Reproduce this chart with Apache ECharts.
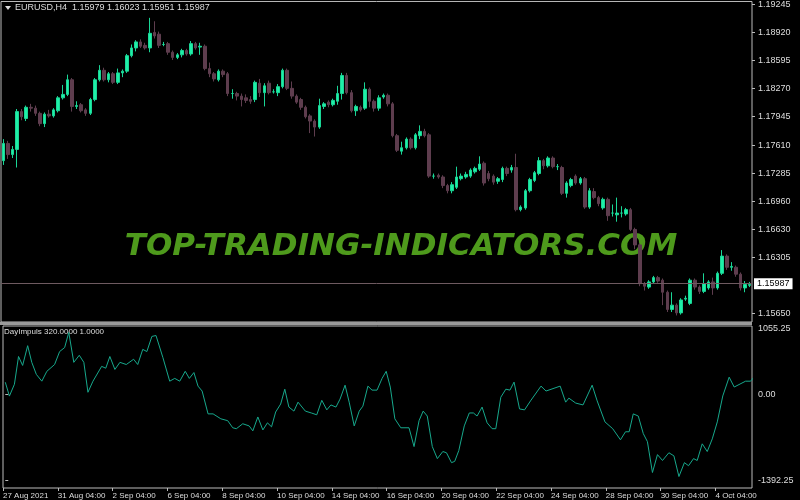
<!DOCTYPE html>
<html>
<head>
<meta charset="utf-8">
<script src="https://cdn.jsdelivr.net/npm/echarts@6/dist/echarts.min.js"></script>
<style>
  html, body { margin: 0; padding: 0; background: #000; }
  #chart { width: 800px; height: 500px; }
</style>
</head>
<body>
<div id="chart"></div>
<script>
// EURUSD H4 candles: [open, close, low, high]
var candles = [
  [1.1743,1.1763,1.1738,1.1768],[1.1763,1.1750,1.1745,1.1766],[1.1750,1.1756,1.1746,1.1760],[1.1756,1.1800,1.1735,1.1803],
  [1.1800,1.1794,1.1790,1.1803],[1.1792,1.1805,1.1789,1.1807],[1.1805,1.1804,1.1800,1.1809],[1.1804,1.1798,1.1795,1.1807],
  [1.1798,1.1786,1.1783,1.1800],[1.1786,1.1797,1.1782,1.1799],[1.1797,1.1795,1.1793,1.1802],[1.1795,1.1802,1.1793,1.1804],
  [1.1801,1.1816,1.1799,1.1818],[1.1816,1.1820,1.1814,1.1831],[1.1820,1.1837,1.1818,1.1843],[1.1837,1.1806,1.1800,1.1839],
  [1.1806,1.1807,1.1803,1.1812],[1.1808,1.1801,1.1799,1.1810],[1.1802,1.1798,1.1795,1.1804],[1.1798,1.1814,1.1796,1.1816],
  [1.1814,1.1837,1.1812,1.1839],[1.1837,1.1848,1.1835,1.1854],[1.1848,1.1837,1.1835,1.1851],[1.1837,1.1844,1.1834,1.1846],
  [1.1844,1.1834,1.1832,1.1846],[1.1834,1.1845,1.1832,1.1850],[1.1845,1.1847,1.1840,1.1849],[1.1847,1.1865,1.1845,1.1867],
  [1.1865,1.1874,1.1863,1.1878],[1.1874,1.1881,1.1870,1.1883],[1.1881,1.1876,1.1874,1.1884],[1.1877,1.1874,1.1872,1.1880],
  [1.1874,1.1891,1.1869,1.1909],[1.1892,1.1888,1.1885,1.1905],[1.1890,1.1877,1.1874,1.1893],[1.1878,1.1878,1.1876,1.1881],
  [1.1879,1.1869,1.1866,1.1881],[1.1869,1.1863,1.1860,1.1871],[1.1863,1.1866,1.1861,1.1868],[1.1866,1.1871,1.1863,1.1873],
  [1.1871,1.1867,1.1865,1.1873],[1.1867,1.1879,1.1865,1.1882],[1.1879,1.1874,1.1872,1.1881],[1.1875,1.1876,1.1866,1.1880],
  [1.1876,1.1850,1.1848,1.1878],[1.1850,1.1844,1.1840,1.1857],[1.1844,1.1838,1.1835,1.1846],[1.1837,1.1847,1.1835,1.1849],
  [1.1847,1.1843,1.1840,1.1849],[1.1844,1.1821,1.1818,1.1846],[1.1821,1.1821,1.1815,1.1826],[1.1821,1.1818,1.1813,1.1823],
  [1.1818,1.1814,1.1806,1.1821],[1.1816,1.1813,1.1810,1.1820],[1.1814,1.1812,1.1809,1.1818],[1.1814,1.1834,1.1811,1.1836],
  [1.1833,1.1822,1.1817,1.1838],[1.1822,1.1830,1.1806,1.1833],[1.1833,1.1822,1.1820,1.1836],[1.1823,1.1823,1.1821,1.1826],
  [1.1822,1.1829,1.1818,1.1832],[1.1829,1.1848,1.1827,1.1850],[1.1848,1.1827,1.1825,1.1850],[1.1827,1.1818,1.1815,1.1835],
  [1.1818,1.1811,1.1809,1.1820],[1.1814,1.1805,1.1802,1.1816],[1.1805,1.1794,1.1792,1.1807],[1.1795,1.1789,1.1775,1.1797],
  [1.1789,1.1782,1.1771,1.1791],[1.1782,1.1807,1.1780,1.1815],[1.1806,1.1809,1.1803,1.1811],[1.1811,1.1808,1.1805,1.1813],
  [1.1808,1.1813,1.1806,1.1815],[1.1812,1.1821,1.1808,1.1830],[1.1821,1.1842,1.1814,1.1845],[1.1842,1.1822,1.1820,1.1845],
  [1.1822,1.1801,1.1799,1.1825],[1.1801,1.1806,1.1795,1.1808],[1.1805,1.1802,1.1800,1.1807],[1.1804,1.1826,1.1802,1.1834],
  [1.1826,1.1812,1.1805,1.1828],[1.1812,1.1804,1.1800,1.1814],[1.1804,1.1816,1.1801,1.1819],[1.1817,1.1819,1.1815,1.1821],
  [1.1819,1.1809,1.1806,1.1821],[1.1809,1.1772,1.1770,1.1811],[1.1772,1.1755,1.1753,1.1774],[1.1754,1.1758,1.1750,1.1765],
  [1.1758,1.1768,1.1756,1.1770],[1.1768,1.1758,1.1756,1.1770],[1.1758,1.1773,1.1756,1.1775],[1.1772,1.1777,1.1768,1.1784],
  [1.1777,1.1772,1.1770,1.1780],[1.1773,1.1725,1.1723,1.1775],[1.1725,1.1725,1.1722,1.1728],[1.1726,1.1724,1.1722,1.1728],
  [1.1724,1.1714,1.1711,1.1726],[1.1714,1.1708,1.1705,1.1716],[1.1708,1.1715,1.1705,1.1718],[1.1712,1.1724,1.1710,1.1736],
  [1.1722,1.1725,1.1720,1.1728],[1.1724,1.1727,1.1722,1.1730],[1.1725,1.1732,1.1723,1.1734],[1.1730,1.1734,1.1728,1.1736],
  [1.1733,1.1739,1.1731,1.1748],[1.1740,1.1717,1.1714,1.1742],[1.1728,1.1722,1.1719,1.1731],[1.1725,1.1718,1.1715,1.1727],
  [1.1719,1.1722,1.1716,1.1724],[1.1721,1.1734,1.1718,1.1736],[1.1734,1.1728,1.1725,1.1736],[1.1732,1.1735,1.1729,1.1738],
  [1.1735,1.1686,1.1684,1.1751],[1.1686,1.1689,1.1684,1.1691],[1.1688,1.1708,1.1686,1.1710],[1.1708,1.1721,1.1706,1.1723],
  [1.1720,1.1729,1.1718,1.1731],[1.1728,1.1743,1.1726,1.1747],[1.1743,1.1737,1.1733,1.1745],[1.1737,1.1746,1.1735,1.1748],
  [1.1746,1.1736,1.1734,1.1748],[1.1736,1.1736,1.1732,1.1739],[1.1735,1.1705,1.1703,1.1737],[1.1705,1.1717,1.1700,1.1719],
  [1.1714,1.1721,1.1712,1.1723],[1.1725,1.1717,1.1715,1.1727],[1.1717,1.1722,1.1715,1.1724],[1.1722,1.1689,1.1687,1.1724],
  [1.1689,1.1708,1.1687,1.1711],[1.1707,1.1700,1.1698,1.1711],[1.1700,1.1693,1.1690,1.1702],[1.1688,1.1698,1.1686,1.1700],
  [1.1698,1.1679,1.1673,1.1700],[1.1682,1.1682,1.1678,1.1692],[1.1680,1.1682,1.1672,1.1700],[1.1682,1.1682,1.1677,1.1690],
  [1.1681,1.1686,1.1679,1.1688],[1.1686,1.1663,1.1661,1.1688],[1.1663,1.1645,1.1640,1.1665],[1.1645,1.1600,1.1597,1.1647],
  [1.1600,1.1597,1.1592,1.1602],[1.1596,1.1602,1.1594,1.1604],[1.1602,1.1607,1.1600,1.1609],[1.1607,1.1603,1.1601,1.1609],
  [1.1604,1.1590,1.1575,1.1606],[1.1590,1.1570,1.1567,1.1592],[1.1570,1.1575,1.1567,1.1590],[1.1575,1.1566,1.1563,1.1577],
  [1.1566,1.1581,1.1564,1.1583],[1.1582,1.1583,1.1580,1.1586],[1.1577,1.1604,1.1575,1.1606],[1.1604,1.1596,1.1593,1.1606],
  [1.1596,1.1591,1.1588,1.1598],[1.1591,1.1600,1.1589,1.1612],[1.1595,1.1602,1.1593,1.1604],[1.1602,1.1595,1.1587,1.1607],
  [1.1595,1.1612,1.1593,1.1614],[1.1612,1.1632,1.1610,1.1639],[1.1632,1.1619,1.1616,1.1634],[1.1619,1.1620,1.1615,1.1625],
  [1.1619,1.1611,1.1608,1.1621],[1.1611,1.1595,1.1592,1.1613],[1.1595,1.1599,1.1590,1.1603],[1.1598,1.1599,1.1596,1.1602]
];
// DayImpuls: [bar index, value]
var impulse = [
  [0,193],[0.9,-32],[2.0,160],[2.9,610],[3.8,465],[4.9,785],[5.8,515],[6.8,320],[8.0,210],[9.1,370],
  [10.8,480],[11.9,690],[13.0,755],[13.9,1000],[15.0,515],[16.2,630],[17.2,515],[18.1,30],[19.2,210],[21.1,450],
  [22.0,420],[22.9,610],[24.0,400],[25.1,515],[26.5,480],[28.1,565],[29.0,480],[30.1,725],[31.0,690],[32.1,935],
  [33.0,950],[34.5,595],[36.0,210],[37.1,255],[38.2,210],[39.4,370],[40.3,255],[41.3,350],[42.2,130],[43.1,50],
  [44.4,-320],[45.5,-320],[47.2,-400],[48.7,-430],[49.8,-545],[50.6,-560],[52.0,-480],[53.4,-515],[54.2,-595],[55.3,-370],
  [56.4,-580],[57.4,-465],[58.3,-530],[59.2,-290],[60.3,-160],[61.2,80],[62.1,-210],[63.2,-275],[64.1,-130],[65.7,-275],
  [67.0,-305],[68.2,-335],[69.3,-100],[70.4,-255],[71.3,-175],[72.4,-210],[73.3,-80],[74.4,145],[75.3,-130],[76.4,-515],
  [77.5,-275],[78.3,-195],[79.4,130],[80.3,65],[81.4,65],[82.5,255],[83.4,370],[84.3,115],[85.3,-400],[86.6,-545],
  [88.4,-545],[89.5,-850],[90.6,-430],[91.5,-275],[92.4,-355],[93.5,-850],[94.6,-1045],[95.8,-930],[96.6,-950],[97.7,-1110],
  [98.4,-1090],[99.3,-915],[100.5,-515],[101.6,-305],[102.5,-305],[103.3,-355],[104.4,-210],[105.5,-465],[106.6,-560],[107.4,-560],
  [108.5,-50],[109.6,80],[110.5,65],[111.4,195],[112.6,-240],[113.7,-255],[115.0,-110],[117.3,130],[118.4,50],[121.5,130],
  [122.7,-130],[123.4,-65],[124.9,-145],[126.5,-175],[128.5,145],[129.6,-110],[131.3,-450],[133.0,-560],[134.7,-740],[135.8,-610],
  [136.6,-610],[137.5,-320],[138.6,-355],[139.7,-640],[140.6,-770],[141.7,-1270],[142.8,-980],[143.9,-1075],[145.3,-950],[146.4,-1000],
  [147.5,-1335],[148.7,-1110],[149.6,-1160],[150.7,-1045],[151.5,-1075],[152.6,-805],[153.7,-930],[154.8,-725],[155.9,-450],[157.1,-30],
  [158.5,275],[159.6,115],[162.1,210],[163.2,210],[164.6,340]
];
var priceTicks = [1.19245,1.18920,1.18595,1.18270,1.17945,1.17610,1.17285,1.16960,1.16630,1.16305,1.15650];
var lastPrice = 1.15987;
var impulseTicks = [1055.25, 0, -1392.25];
var dateTicks = [0,12,24,36,48,60,72,84,96,108,120,132,144,156];
var dateLabels = ['27 Aug 2021','31 Aug 04:00','2 Sep 04:00','6 Sep 04:00','8 Sep 04:00','10 Sep 04:00','14 Sep 04:00',
  '16 Sep 04:00','20 Sep 04:00','22 Sep 04:00','24 Sep 04:00','28 Sep 04:00','30 Sep 04:00','4 Oct 04:00'];

var n = candles.length;
var idx = candles.map(function (c, i) { return i; });
var font = 'Liberation Sans';

var myChart = echarts.init(document.getElementById('chart'));
myChart.setOption({
    backgroundColor: '#000',
    animation: false,
    grid: [
        {left: 1, right: 48, top: 1, height: 321, show: true, borderColor: '#bbb', borderWidth: 1},
        {left: 1, right: 48, top: 326, height: 164, show: true, borderColor: '#bbb', borderWidth: 1}
    ],
    xAxis: [
        {type: 'category', gridIndex: 0, data: idx, boundaryGap: true,
         axisLine: {show: false}, axisTick: {show: false}, axisLabel: {show: false}, splitLine: {show: false}},
        {type: 'value', gridIndex: 1, min: -0.5, max: n - 0.5,
         axisLine: {show: false, onZero: false}, splitLine: {show: false},
         axisTick: {show: true, customValues: dateTicks.map(function (t) { return t - 0.5; }), length: 3, inside: false,
                    lineStyle: {color: '#bbb'}},
         axisLabel: {show: true, customValues: dateTicks.map(function (t) { return t - 0.5; }), color: '#ddd',
                     fontFamily: font, fontSize: 8, align: 'left', margin: 4,
                     formatter: function (v) { return dateLabels[dateTicks.indexOf(Math.round(v + 0.5))] || ''; }}}
    ],
    yAxis: [
        {type: 'value', gridIndex: 0, position: 'right', min: 1.15554, max: 1.19280, scale: true,
         axisLine: {show: false}, splitLine: {show: false},
         axisTick: {show: true, customValues: priceTicks, length: 3, lineStyle: {color: '#bbb'}},
         axisLabel: {customValues: priceTicks, color: '#ddd', fontFamily: font, fontSize: 9, margin: 6,
                     formatter: function (v) { return v.toFixed(5); }}},
        {type: 'value', gridIndex: 1, position: 'right', min: -1521, max: 1104,
         axisLine: {show: false}, splitLine: {show: false},
         axisTick: {show: true, customValues: impulseTicks, length: 3, lineStyle: {color: '#bbb'}},
         axisLabel: {customValues: impulseTicks, color: '#ddd', fontFamily: font, fontSize: 9, margin: 6,
                     formatter: function (v) { return v.toFixed(2); }}}
    ],
    series: [
        {
            type: 'candlestick', xAxisIndex: 0, yAxisIndex: 0, barWidth: 3,
            data: candles.map(function (c) { return [c[0], c[1], c[2], c[3]]; }),
            itemStyle: {color: '#1ef0a8', borderColor: '#1ad696', color0: '#5e3d4e', borderColor0: '#5e3d4e', borderWidth: 1},
            markLine: {
                symbol: 'none', silent: true,
                lineStyle: {color: '#6e5a60', type: 'solid', width: 1},
                label: {position: 'end', distance: 2, formatter: lastPrice.toFixed(5), backgroundColor: '#fff',
                        color: '#000', fontFamily: font, fontSize: 9, padding: [1, 3]},
                data: [{yAxis: lastPrice}]
            }
        },
        {
            type: 'line', xAxisIndex: 1, yAxisIndex: 1, data: impulse,
            showSymbol: false, lineStyle: {color: '#17a88c', width: 1}
        }
    ],
    graphic: [
        {type: 'polygon', shape: {points: [[5, 6], [11, 6], [8, 10]]}, style: {fill: '#ddd'}},
        {type: 'text', left: 15, top: 3, style: {text: 'EURUSD,H4  1.15979 1.16023 1.15951 1.15987',
            fill: '#ddd', font: '9px Liberation Sans'}},
        {type: 'text', left: 4, top: 328, style: {text: 'DayImpuls 320.0000 1.0000', fill: '#ddd', font: '8px Liberation Sans'}},
        {type: 'rect', shape: {x: 0, y: 322, width: 752, height: 3}, style: {fill: '#9a9a9a'}},
        {type: 'text', x: 401, y: 247, style: {text: 'TOP-TRADING-INDICATORS.COM', fill: '#4e9a1c',
            font: 'italic bold 31px DejaVu Sans', align: 'center', verticalAlign: 'middle'}}
    ]
});
</script>
</body>
</html>
